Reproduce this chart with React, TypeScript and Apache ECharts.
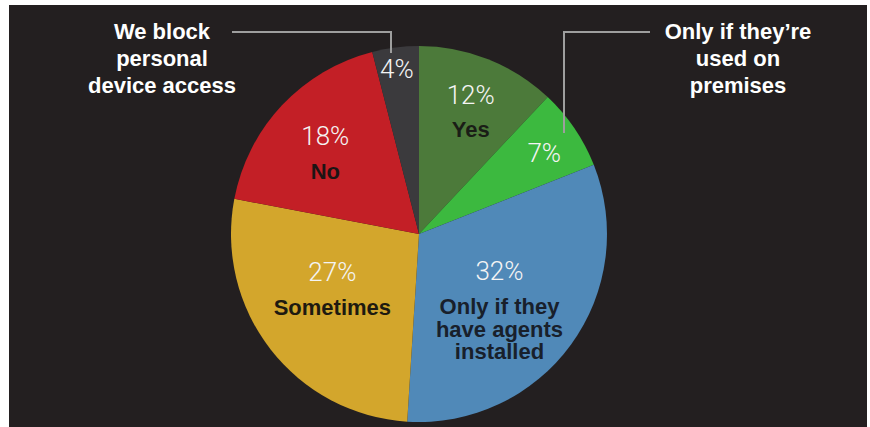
import React, { useEffect, useRef } from "react";
import * as echarts from "echarts";

const categories = [
  "Yes",
  "Only if they’re used on premises",
  "Only if they have agents installed",
  "Sometimes",
  "No",
  "We block personal device access",
];
const values = [12, 7, 32, 27, 18, 4];
const insideNames = ["Yes", "", "Only if they\nhave agents\ninstalled", "Sometimes", "No", ""];
const colors = ["#4c7a3a", "#3cb93f", "#5089b8", "#d3a62c", "#c31f26", "#3b3a3d"];
const nameColors = ["#1a1d16", "", "#18202b", "#1e1a10", "#1c1414", ""];
// label nudges relative to the default inside position
const labelShift: [number, number][] = [
  [16, -38],
  [45, -26],
  [2, 14],
  [-10, -10],
  [-23, -20],
  [-10, -69],
];

export default function App() {
  const ref = useRef<HTMLDivElement>(null);
  useEffect(() => {
    if (!ref.current) return;
    const chart = echarts.init(ref.current, null, { renderer: "svg" });
    const rich: any = {
      p: { fontFamily: "Roboto", fontWeight: 300, fontSize: 26, color: "#f4f4f4", lineHeight: 48 },
    };
    nameColors.forEach((c, i) => {
      rich["n" + i] = {
        fontFamily: "Liberation Sans",
        fontWeight: "bold",
        fontSize: 22,
        color: c || "#111",
        lineHeight: 22.5,
      };
    });
    chart.setOption({
      animation: false,
      backgroundColor: "#ffffff",
      graphic: [
        { type: "rect", z: 0, shape: { x: 9, y: 5, width: 858, height: 422 }, style: { fill: "#231f20" } },
        {
          type: "polyline",
          z: 100,
          shape: { points: [[232, 32], [391, 32], [391, 53]] },
          style: { stroke: "#9e9e9e", lineWidth: 2, fill: null },
        },
        {
          type: "polyline",
          z: 100,
          shape: { points: [[650, 32], [564, 32], [564, 133]] },
          style: { stroke: "#9e9e9e", lineWidth: 2, fill: null },
        },
        {
          type: "text",
          z: 100,
          x: 162,
          y: 18,
          style: {
            text: "We block\npersonal\ndevice access",
            align: "center",
            verticalAlign: "top",
            fill: "#ffffff",
            font: "bold 22px 'Liberation Sans'",
            lineHeight: 27,
          },
        },
        {
          type: "text",
          z: 100,
          x: 738,
          y: 18,
          style: {
            text: "Only if they’re\nused on\npremises",
            align: "center",
            verticalAlign: "top",
            fill: "#ffffff",
            font: "bold 22px 'Liberation Sans'",
            lineHeight: 27,
          },
        },
      ],
      series: [
        {
          type: "pie",
          center: [419, 234],
          radius: [0, 188],
          startAngle: 90,
          clockwise: true,
          avoidLabelOverlap: false,
          itemStyle: { borderWidth: 0 },
          label: {
            show: true,
            position: "inside",
            formatter: (p: any) => {
              const i = p.dataIndex;
              let s = "{p|" + values[i] + "%}";
              if (insideNames[i]) {
                s += insideNames[i]
                  .split("\n")
                  .map((l) => "\n{n" + i + "|" + l + "}")
                  .join("");
              }
              return s;
            },
            rich,
          },
          labelLayout: (p: any) => ({
            dx: labelShift[p.dataIndex][0],
            dy: labelShift[p.dataIndex][1],
            hideOverlap: false,
          }),
          emphasis: { disabled: true },
          data: categories.map((name, i) => ({
            name,
            value: values[i],
            itemStyle: { color: colors[i] },
          })),
        },
      ],
    });
    return () => chart.dispose();
  }, []);
  return <div ref={ref} style={{ position: "absolute", left: 0, top: 0, width: 870, height: 427 }} />;
}
